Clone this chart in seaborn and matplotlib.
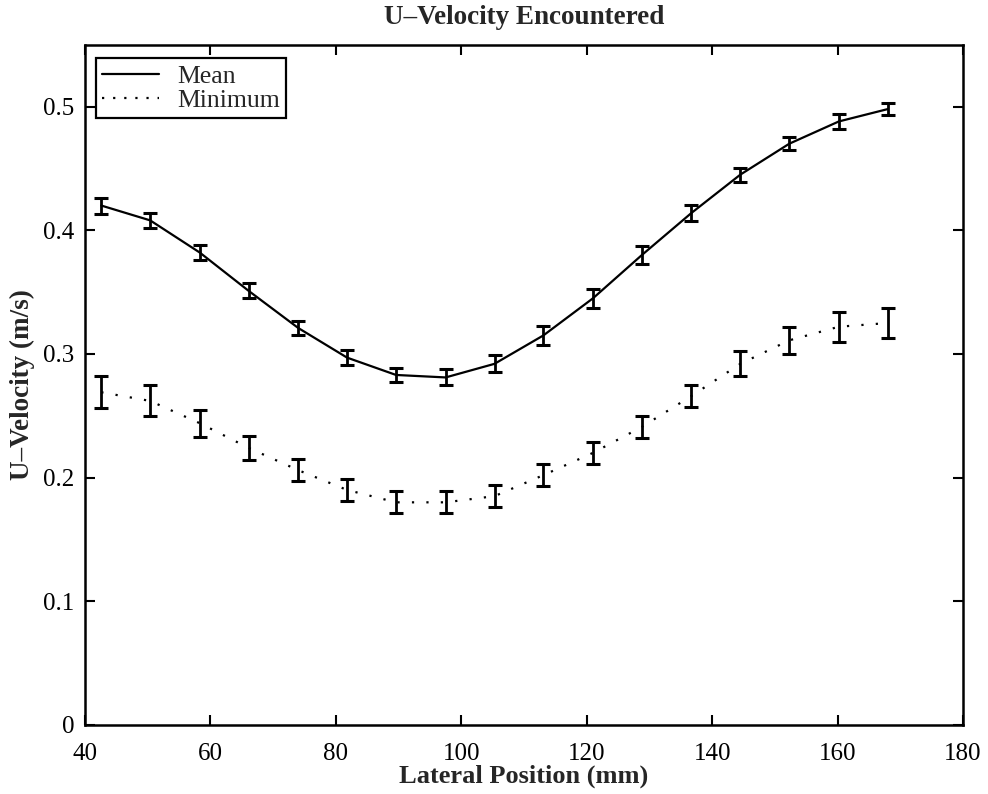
import matplotlib
matplotlib.use("Agg")
import matplotlib.pyplot as plt
from matplotlib.lines import Line2D
import seaborn as sns
import pandas as pd

# Lateral sampling positions (mm)
lateral_mm = [42.6, 50.4, 58.3, 66.1, 74.0, 81.8, 89.6, 97.5, 105.3,
              113.1, 121.0, 128.8, 136.7, 144.5, 152.3, 160.2, 168.0]

# Mean encountered U-velocity (m/s) and its uncertainty
mean_u = [0.420, 0.408, 0.382, 0.351, 0.321, 0.297, 0.283, 0.281, 0.292,
          0.315, 0.345, 0.380, 0.414, 0.445, 0.470, 0.488, 0.498]
mean_err = [0.0065, 0.006, 0.006, 0.006, 0.006, 0.006, 0.006, 0.0065, 0.007,
            0.0078, 0.0075, 0.007, 0.0062, 0.0057, 0.0054, 0.006, 0.0047]

# Minimum encountered U-velocity (m/s) and its uncertainty
min_u = [0.269, 0.262, 0.244, 0.224, 0.206, 0.190, 0.180, 0.180, 0.185,
         0.202, 0.220, 0.241, 0.266, 0.292, 0.311, 0.322, 0.325]
min_err = [0.013, 0.0125, 0.011, 0.010, 0.009, 0.009, 0.009, 0.009, 0.009,
           0.009, 0.009, 0.009, 0.009, 0.010, 0.011, 0.012, 0.012]

x_ticks = [40, 60, 80, 100, 120, 140, 160, 180]
y_ticks = [0, 0.1, 0.2, 0.3, 0.4, 0.5]
y_tick_labels = ["0", "0.1", "0.2", "0.3", "0.4", "0.5"]

sns.set_style("ticks")
plt.rcParams["font.family"] = ["Liberation Serif", "DejaVu Serif"]

df = pd.DataFrame({
    "x": lateral_mm * 2,
    "u": mean_u + min_u,
    "stat": ["Mean"] * len(mean_u) + ["Minimum"] * len(min_u),
})

fig = plt.figure(figsize=(9.88, 7.94), dpi=100)
ax = fig.add_axes([0.086, 0.087, 0.8887, 0.8566])

sns.lineplot(data=df, x="x", y="u", style="stat", hue="stat",
             palette={"Mean": "black", "Minimum": "black"},
             dashes={"Mean": "", "Minimum": (1, 5.5)},
             linewidth=1.6, ax=ax, legend=False)

ax.errorbar(lateral_mm, mean_u, yerr=mean_err, fmt="none", ecolor="black",
            elinewidth=2.0, capsize=5, capthick=2.2)
ax.errorbar(lateral_mm, min_u, yerr=min_err, fmt="none", ecolor="black",
            elinewidth=2.0, capsize=5, capthick=2.2)

ax.set_xlim(40, 180)
ax.set_ylim(0, 0.55)
ax.set_xticks(x_ticks)
ax.set_xticklabels([str(t) for t in x_ticks])
ax.set_yticks(y_ticks)
ax.set_yticklabels(y_tick_labels)

ax.tick_params(direction="in", length=7, width=1.5, top=True, right=True,
               labelsize=18, colors="black")
ax.tick_params(axis="x", pad=13)
ax.tick_params(axis="y", pad=7.5)
for s in ax.spines.values():
    s.set_linewidth(1.8)
    s.set_color("black")
    s.set_visible(True)

ax.set_title("U\u2013Velocity Encountered", fontsize=19.5, fontweight="bold", pad=15)
ax.set_xlabel("Lateral Position (mm)", fontsize=19, fontweight="bold", labelpad=0)
ax.set_ylabel("U\u2013Velocity (m/s)", fontsize=19.5, fontweight="bold", labelpad=6)

handles = [Line2D([], [], color="black", lw=1.6),
           Line2D([], [], color="black", lw=1.6, linestyle=(0, (1, 4)))]
leg = ax.legend(handles, ["Mean", "Minimum"], loc="upper left", fontsize=18.5,
                frameon=True, fancybox=False, edgecolor="black",
                framealpha=1, borderpad=0.25, handlelength=2.2,
                handletextpad=0.7, labelspacing=0.05, borderaxespad=0,
                bbox_to_anchor=(0.0125, 0.98))
leg.get_frame().set_linewidth(1.6)

fig.savefig("out.png", dpi=100)
